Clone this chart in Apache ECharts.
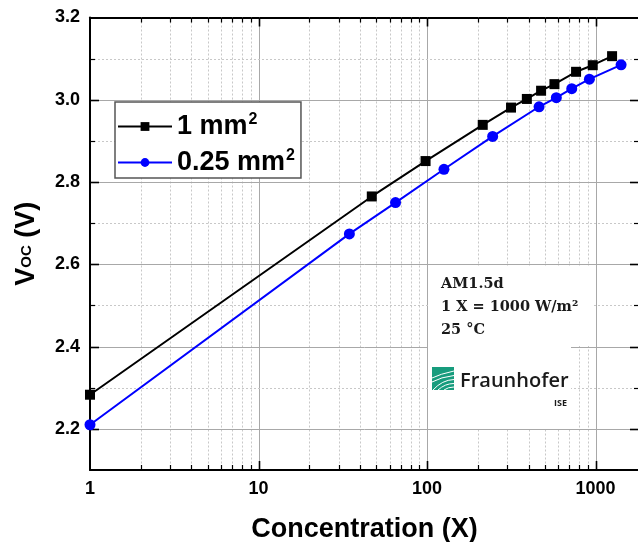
<!DOCTYPE html>
<html>
<head>
<meta charset="utf-8">
<script src="https://cdn.jsdelivr.net/npm/echarts@6/dist/echarts.min.js"></script>
<style>
  html, body { margin: 0; padding: 0; background: #fff; }
  #chart { width: 638px; height: 542px; }
</style>
</head>
<body>
<div id="chart"></div>
<script>
// Open-circuit voltage of the cell versus concentration ratio, two cell areas
const seriesNames = ['1 mm²', '0.25 mm²'];
const conc1mm = [1, 47, 98, 214, 315, 391, 475, 570, 766, 962, 1253];
const voc1mm = [2.283, 2.765, 2.851, 2.939, 2.981, 3.002, 3.022, 3.038, 3.068, 3.084, 3.106];
const conc025mm = [1, 34.6, 65, 126, 245, 462, 585, 722, 919, 1417];
const voc025mm = [2.210, 2.674, 2.750, 2.831, 2.911, 2.983, 3.005, 3.027, 3.050, 3.085];

// Axis ticks
const xMajorTicks = [10, 100, 1000];
const xMinorTicks = [2, 3, 4, 5, 6, 7, 8, 9, 20, 30, 40, 50, 60, 70, 80, 90,
                     200, 300, 400, 500, 600, 700, 800, 900];
const yMajorTicks = [2.2, 2.4, 2.6, 2.8, 3.0];
const yMinorTicks = [2.3, 2.5, 2.7, 2.9, 3.1];

// Measurement conditions
const noteLines = ['AM1.5d', '1 X = 1000 W/m²', '25 °C'];

const X_MIN = 1, X_MAX = 1810, Y_MIN = 2.1, Y_MAX = 3.2;
const SANS = '"Liberation Sans", Arial, sans-serif';

// grid-line items: [x, y, kind]  kind 0 = major vertical, 1 = minor vertical, 2 = major horizontal, 3 = minor horizontal
const gridItems = []
  .concat(xMajorTicks.map(v => [v, 2.5, 0]))
  .concat(xMinorTicks.map(v => [v, 2.5, 1]))
  .concat(yMajorTicks.map(v => [10, v, 2]))
  .concat(yMinorTicks.map(v => [10, v, 3]));

const majorGrid = { stroke: '#a8a8a8', lineWidth: 1 };
const minorGrid = { stroke: '#c8c8c8', lineWidth: 1, lineDash: [2, 2] };

function renderGrid(params, api) {
  const kind = api.value(2);
  const cs = params.coordSys;
  const L = cs.x, R = cs.x + cs.width, T = cs.y, B = cs.y + cs.height;
  const children = [];
  if (kind === 0 || kind === 1) {
    const px = Math.round(api.coord([api.value(0), 2.5])[0]) + 0.5;
    const major = kind === 0;
    const len = major ? 9 : 5;
    const tick = { stroke: '#000', lineWidth: major ? 1.6 : 1.2 };
    children.push({ type: 'line', shape: { x1: px, y1: T, x2: px, y2: B }, style: major ? majorGrid : minorGrid });
    children.push({ type: 'line', shape: { x1: px, y1: B, x2: px, y2: B - len }, style: tick });
    children.push({ type: 'line', shape: { x1: px, y1: T, x2: px, y2: T + len }, style: tick });
  } else {
    const py = Math.round(api.coord([10, api.value(1)])[1]) + 0.5;
    const major = kind === 2;
    const len = major ? 9 : 5;
    const tick = { stroke: '#000', lineWidth: major ? 1.6 : 1.2 };
    children.push({ type: 'line', shape: { x1: L, y1: py, x2: R, y2: py }, style: major ? majorGrid : minorGrid });
    children.push({ type: 'line', shape: { x1: L, y1: py, x2: L + len, y2: py }, style: tick });
    children.push({ type: 'line', shape: { x1: R, y1: py, x2: R - len, y2: py }, style: tick });
  }
  return { type: 'group', children: children };
}

function zip(xs, ys) { return xs.map((x, i) => [x, ys[i]]); }

const chart = echarts.init(document.getElementById('chart'));

const axisLineStyle = { color: '#000', width: 2 };

// Fraunhofer logo mark: green square with white sweeping stripes
const stripe = (x1, y1, cx, cy, x2, y2) => ({
  type: 'bezierCurve', z: 3, x: 432, y: 367,
  shape: { x1: x1, y1: y1, cpx1: cx, cpy1: cy, x2: x2, y2: y2 },
  style: { stroke: '#fff', lineWidth: 1, fill: null }
});

chart.setOption({
  animation: false,
  backgroundColor: '#fff',
  grid: { left: 90, top: 17.5, right: -1, height: 452.5, containLabel: false, outerBoundsMode: 'none' },
  xAxis: [
    {
      type: 'log', logBase: 10, min: X_MIN, max: X_MAX, position: 'bottom',
      axisLine: { lineStyle: axisLineStyle },
      axisTick: { show: false },
      splitLine: { show: false },
      axisLabel: {
        color: '#000', fontFamily: SANS, fontWeight: 'bold', fontSize: 18, margin: 10,
        showMaxLabel: false,
        formatter: v => String(Math.round(v))
      },
      name: 'Concentration (X)', nameLocation: 'middle', nameGap: 46,
      nameTextStyle: { color: '#000', fontFamily: SANS, fontWeight: 'bold', fontSize: 27 }
    },
    {
      type: 'log', logBase: 10, min: X_MIN, max: X_MAX, position: 'top',
      axisLine: { lineStyle: axisLineStyle },
      axisTick: { show: false }, splitLine: { show: false }, axisLabel: { show: false }
    }
  ],
  yAxis: [
    {
      type: 'value', min: Y_MIN, max: Y_MAX, interval: 0.1, position: 'left',
      axisLine: { lineStyle: axisLineStyle },
      axisTick: { show: false },
      splitLine: { show: false },
      axisLabel: {
        color: '#000', fontFamily: SANS, fontWeight: 'bold', fontSize: 18, margin: 10,
        formatter: v => (Math.round(v * 10) % 2 === 0 ? v.toFixed(1) : '')
      },
      name: '{v|V}{s|OC}{v| (V)}', nameLocation: 'middle', nameRotate: 90, nameGap: 48,
      nameTextStyle: {
        rich: {
          v: { color: '#000', fontFamily: SANS, fontWeight: 'bold', fontSize: 27, lineHeight: 30 },
          s: { color: '#000', fontFamily: SANS, fontWeight: 'bold', fontSize: 15, lineHeight: 30 }
        }
      }
    },
    {
      type: 'value', min: Y_MIN, max: Y_MAX, interval: 0.1, position: 'right',
      axisLine: { lineStyle: axisLineStyle },
      axisTick: { show: false }, splitLine: { show: false }, axisLabel: { show: false }
    }
  ],
  legend: {
    orient: 'vertical', left: 115, top: 102,
    padding: [10, 6, 2, 2], itemGap: 8, itemWidth: 54, itemHeight: 11,
    backgroundColor: '#fff', borderColor: '#555', borderWidth: 1.5, borderRadius: 0,
    data: seriesNames,
    formatter: name => '{n|' + name.replace('²', '') + '}{s|2}',
    textStyle: {
      rich: {
        n: { color: '#000', fontFamily: SANS, fontWeight: 'bold', fontSize: 27, lineHeight: 29 },
        s: { color: '#000', fontFamily: SANS, fontWeight: 'bold', fontSize: 16, lineHeight: 29, verticalAlign: 'top', padding: [0, 0, 0, 1] }
      }
    }
  },
  series: [
    {
      type: 'custom', name: 'grid', z: 1, silent: true, clip: false,
      xAxisIndex: 0, yAxisIndex: 0,
      data: gridItems, renderItem: renderGrid
    },
    {
      type: 'line', name: seriesNames[0], z: 4,
      xAxisIndex: 0, yAxisIndex: 0,
      data: zip(conc1mm, voc1mm),
      symbol: 'rect', symbolSize: 10,
      itemStyle: { color: '#000' },
      lineStyle: { color: '#000', width: 2 }
    },
    {
      type: 'line', name: seriesNames[1], z: 4,
      xAxisIndex: 0, yAxisIndex: 0,
      data: zip(conc025mm, voc025mm),
      symbol: 'circle', symbolSize: 11,
      itemStyle: { color: '#0000ff' },
      lineStyle: { color: '#0000ff', width: 2 }
    }
  ],
  graphic: [
    // backing panels for the condition note and the institute logo
    { type: 'rect', z: 2, shape: { x: 428, y: 266, width: 166, height: 80 }, style: { fill: '#fff' } },
    { type: 'rect', z: 2, shape: { x: 428, y: 345, width: 143, height: 83 }, style: { fill: '#fff' } }
  ].concat(noteLines.map((t, i) => ({
    type: 'text', z: 3, x: 441, y: 284 + i * 23,
    style: {
      text: t, fill: '#1a1a1a', font: 'bold 14.5px "DejaVu Serif", serif',
      verticalAlign: 'middle'
    }
  }))).concat([
    { type: 'rect', z: 3, x: 432, y: 367, shape: { x: 0, y: 0, width: 22, height: 23 }, style: { fill: '#179c7d' } },
    stripe(0, 11, 8, 7, 22, 4),
    stripe(0, 15, 9, 10, 22, 8.5),
    stripe(1, 23, 10, 13, 22, 12.5),
    stripe(6, 23, 13, 16.5, 22, 16.5),
    stripe(12, 23, 16, 20, 22, 20),
    {
      type: 'text', z: 3, x: 460, y: 381,
      style: { text: 'Fraunhofer', fill: '#1a1a1a', font: '600 20px "Open Sans", "Noto Sans", sans-serif', verticalAlign: 'middle' }
    },
    {
      type: 'text', z: 3, x: 567, y: 403,
      style: { text: 'ISE', fill: '#1a1a1a', font: 'bold 9px "Open Sans", "Noto Sans", sans-serif', align: 'right', verticalAlign: 'middle' }
    }
  ])
});
</script>
</body>
</html>
